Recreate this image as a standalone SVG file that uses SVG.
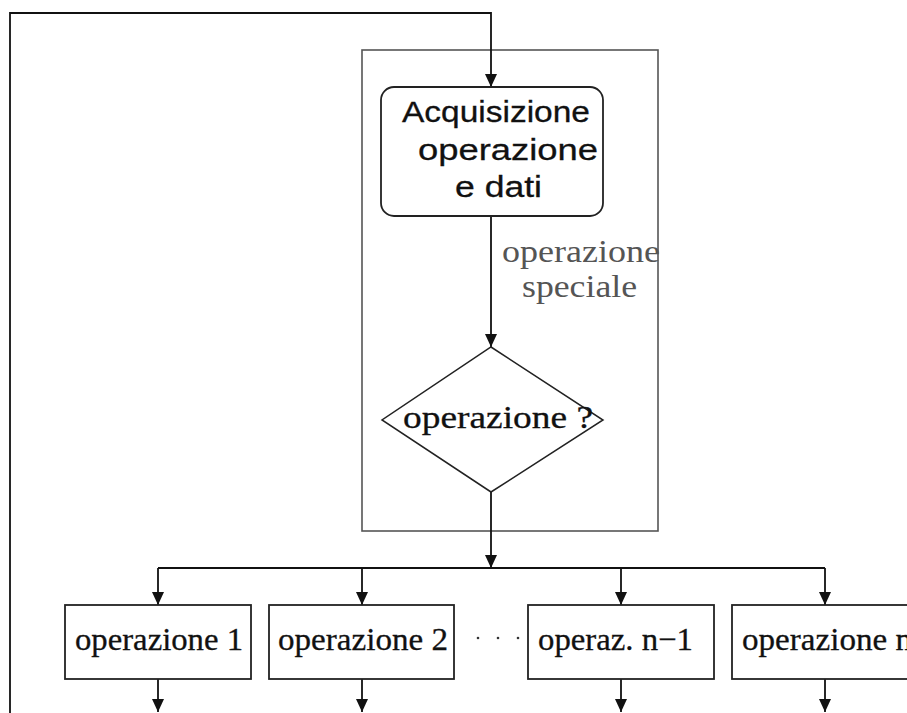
<svg xmlns="http://www.w3.org/2000/svg" width="907" height="713" viewBox="0 0 907 713">
  <style>
    .wire { fill: none; stroke: #111; stroke-width: 1.8; }
    .box { fill: #fff; stroke: #222; stroke-width: 1.8; }
    .frame { fill: none; stroke: #555; stroke-width: 1.6; }
    .serif { font-family: "Liberation Serif", "Times New Roman", serif; font-size: 32px; fill: #111; stroke: #111; stroke-width: 0.3; }
    .sans { font-family: "Liberation Sans", Arial, sans-serif; font-size: 30px; fill: #111; stroke: #111; stroke-width: 0.3; }
    .note { font-family: "Liberation Serif", "Times New Roman", serif; font-size: 31px; fill: #555; }
  </style>
  <defs>
    <marker id="arrow" markerWidth="13" markerHeight="12" refX="13" refY="6" orient="auto" markerUnits="userSpaceOnUse">
      <path d="M0,0 L13,6 L0,12 Z" fill="#111"/>
    </marker>
  </defs>
  <rect width="907" height="713" fill="#fff"/>

  <!-- grey frame around the decision block -->
  <rect id="frame" class="frame" x="362" y="50" width="296" height="481"/>

  <!-- connectors -->
  <g id="connectors">
    <path class="wire" d="M10,713 L10,13 L491,13 L491,87" marker-end="url(#arrow)"/>
    <path class="wire" d="M491,216 L491,347" marker-end="url(#arrow)"/>
    <path class="wire" d="M491,492 L491,568" marker-end="url(#arrow)"/>
    <path class="wire" d="M158,568 L825,568"/>
    <path class="wire" d="M158,568 L158,605" marker-end="url(#arrow)"/>
    <path class="wire" d="M362,568 L362,605" marker-end="url(#arrow)"/>
    <path class="wire" d="M621,568 L621,605" marker-end="url(#arrow)"/>
    <path class="wire" d="M825,568 L825,605" marker-end="url(#arrow)"/>
    <path class="wire" d="M158,679 L158,712" marker-end="url(#arrow)"/>
    <path class="wire" d="M362,679 L362,712" marker-end="url(#arrow)"/>
    <path class="wire" d="M621,679 L621,712" marker-end="url(#arrow)"/>
    <path class="wire" d="M825,679 L825,712" marker-end="url(#arrow)"/>
  </g>

  <!-- input step -->
  <g id="acquisizione">
    <rect class="box" x="381" y="87" width="222" height="129" rx="13" ry="13"/>
    <text class="sans" x="402" y="122" textLength="188" lengthAdjust="spacingAndGlyphs">Acquisizione</text>
    <text class="sans" x="418" y="160" textLength="180" lengthAdjust="spacingAndGlyphs">operazione</text>
    <text class="sans" x="455" y="197" textLength="87" lengthAdjust="spacingAndGlyphs">e dati</text>
  </g>

  <!-- edge label -->
  <g id="label-speciale">
    <text class="note" x="502" y="262" textLength="158" lengthAdjust="spacingAndGlyphs">operazione</text>
    <text class="note" x="522" y="297" textLength="115" lengthAdjust="spacingAndGlyphs">speciale</text>
  </g>

  <!-- decision -->
  <g id="decisione">
    <polygon points="491,347 603,420 491,492 382,420" fill="#fff" stroke="#222" stroke-width="1.5"/>
    <text class="serif" x="403" y="428" textLength="190" lengthAdjust="spacingAndGlyphs">operazione ?</text>
  </g>

  <!-- operation boxes -->
  <g id="op1">
    <rect class="box" x="65" y="605" width="186" height="74"/>
    <text class="serif" x="75" y="650" textLength="168" lengthAdjust="spacingAndGlyphs">operazione 1</text>
  </g>
  <g id="op2">
    <rect class="box" x="269" y="605" width="185" height="74"/>
    <text class="serif" x="278" y="650" textLength="170" lengthAdjust="spacingAndGlyphs">operazione 2</text>
  </g>
  <g id="ellipsis">
    <circle cx="478" cy="638" r="1.3" fill="#333"/>
    <circle cx="498" cy="638" r="1.3" fill="#333"/>
    <circle cx="518" cy="638" r="1.3" fill="#333"/>
  </g>
  <g id="opn1">
    <rect class="box" x="528" y="605" width="186" height="74"/>
    <text class="serif" x="538" y="650" textLength="155" lengthAdjust="spacingAndGlyphs">operaz. n−1</text>
  </g>
  <g id="opn">
    <rect class="box" x="732" y="605" width="190" height="74"/>
    <text class="serif" x="742" y="650" textLength="170" lengthAdjust="spacingAndGlyphs">operazione n</text>
  </g>
</svg>
